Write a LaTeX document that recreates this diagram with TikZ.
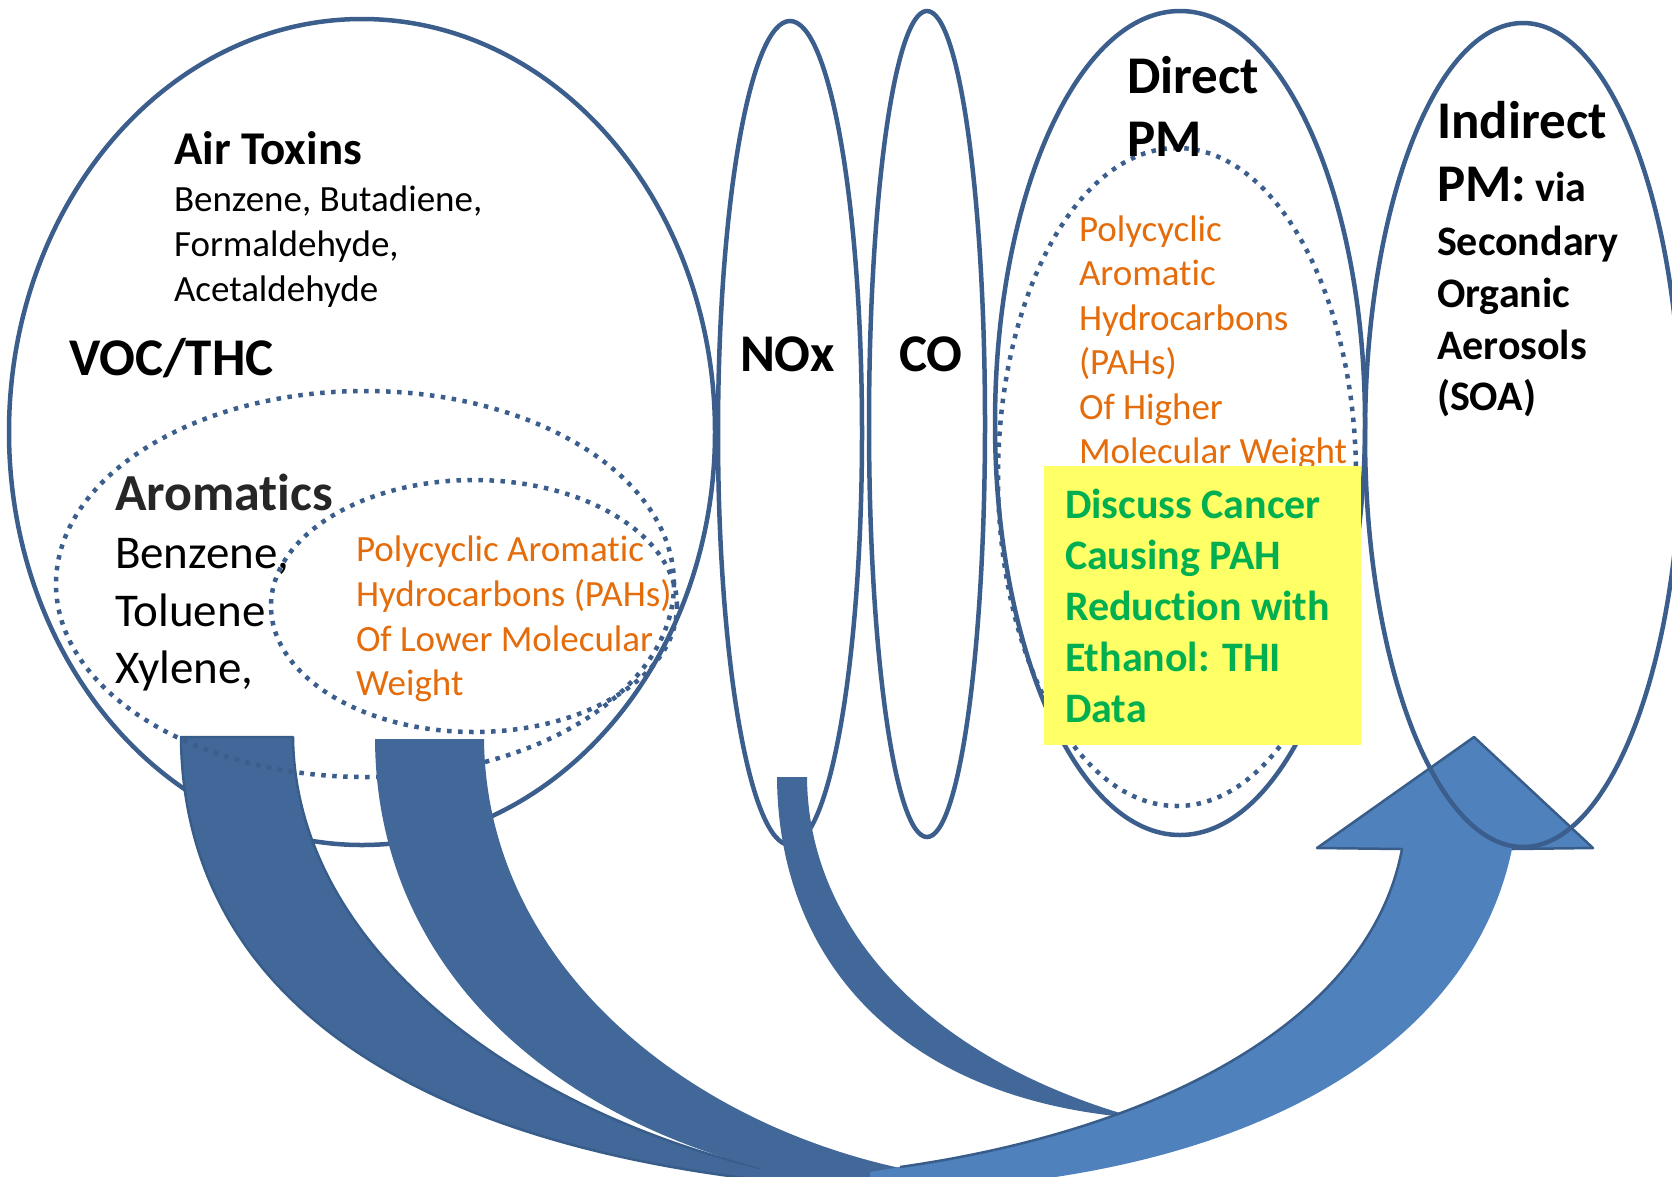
\documentclass[tikz,border=0pt]{standalone}
\usepackage{fontspec}
\setmainfont{Carlito}[Ligatures=NoCommon]
\definecolor{lineblue}{HTML}{3B5E8C}
\definecolor{bandblue}{HTML}{416899}
\definecolor{arrowblue}{HTML}{4F81BD}
\definecolor{edgeblue}{HTML}{385D8A}
\definecolor{pahorange}{HTML}{E46C0A}
\definecolor{notegreen}{HTML}{00B050}
\definecolor{noteyellow}{HTML}{FFFF66}
\newcommand\setpt[1]{\fontsize{#1pt}{#1pt}\selectfont}
\begin{document}
\begin{tikzpicture}[x=1pt,y=-1pt,
  outline/.style={draw=lineblue, line width=4.5pt},
  dotline/.style={draw=lineblue, line width=4.5pt, dash pattern=on 4.5pt off 6.5pt},
  band/.style={fill=bandblue},
  bandedge/.style={draw=edgeblue, line width=2.5pt, line join=round},
  lbl/.style={anchor=base west, inner sep=0pt, outer sep=0pt},
  head/.style={lbl, font=\setpt{53}\bfseries},
  sub/.style={lbl, font=\setpt{37}},
  pah/.style={lbl, font=\setpt{37}, text=pahorange},
  soa/.style={lbl, font=\setpt{42}\bfseries},
  note/.style={lbl, font=\setpt{42}\bfseries, text=notegreen},
  notebox/.style={fill=noteyellow, inner sep=0pt, outer sep=0pt, anchor=north west}
]
\useasboundingbox (0,0) rectangle (1672,1176);
\clip (0,0) rectangle (1672,1176);

% VOC/THC outline
\draw[outline] (362,432) ellipse [x radius=353pt, y radius=413pt];

% left flow band (aromatics)
\path[band] (181,737) -- (293,737)
  .. controls (295,950) and (520,1110) .. (760,1168)
  -- (900,1180) -- (850,1188)
  .. controls (420,1160) and (183,1000) .. (181,737) -- cycle;
\draw[bandedge] (760,1168) .. controls (520,1110) and (295,950) .. (293,737)
  -- (181,737) .. controls (183,1000) and (420,1160) .. (850,1188);

% aromatics and light PAH groups
\draw[dotline] (365,584) ellipse [x radius=309pt, y radius=193pt];
\draw[dotline] (474,606) ellipse [x radius=203pt, y radius=126pt];

% second flow band (light PAHs)
\path[band] (375,739) -- (484,739)
  .. controls (486,960) and (680,1120) .. (900,1168)
  -- (900,1190) -- (760,1190) -- (760,1168)
  .. controls (540,1110) and (376,960) .. (375,739) -- cycle;

% NOx and CO
\draw[outline] (790,433) ellipse [x radius=72pt, y radius=412pt];
\draw[outline] (927,424) ellipse [x radius=58pt, y radius=413pt];

% thin NOx band
\path[band] (777,777) -- (807,777)
  .. controls (808,930) and (930,1060) .. (1137,1118)
  .. controls (900,1100) and (778,960) .. (777,777) -- cycle;

% Direct PM
\draw[outline] (1180,423) ellipse [x radius=185pt, y radius=412pt];
\draw[dotline] (1177,477) ellipse [x radius=179pt, y radius=329pt];

% rising arrow into secondary aerosols
\path[fill=arrowblue] (870,1172) -- (900,1167)
  .. controls (1160,1130) and (1370,1020) .. (1402,849)
  -- (1317,848) -- (1474,737) -- (1593,848) -- (1512,849)
  .. controls (1470,1050) and (1250,1170) .. (950,1188)
  -- (870,1190) -- cycle;
\draw[bandedge] (900,1167)
  .. controls (1160,1130) and (1370,1020) .. (1402,849)
  -- (1317,848) -- (1474,737) -- (1593,848) -- (1512,849);

% Indirect PM
\draw[outline] (1523,435) ellipse [x radius=158pt, y radius=412pt];

% VOC/THC texts
\node[lbl, font=\setpt{47}\bfseries] (airtox) at (174,164) {Air Toxins};
\node[sub] (at1) at (174,211.7) {Benzene, Butadiene,};
\node[sub] (at2) at (174,256.7) {Formaldehyde,};
\node[sub] (at3) at (174,301.7) {Acetaldehyde};
\node[head] (voc) at (69,375) {VOC/THC};
\node[head, font=\setpt{52}\bfseries, text=black!85] (arom) at (115,510) {Aromatics};
\node[lbl, font=\setpt{47}] (ar1) at (115,568) {Benzene,};
\node[lbl, font=\setpt{47}] (ar2) at (115,626.5) {Toluene};
\node[lbl, font=\setpt{47}] (ar3) at (115,683.5) {Xylene,};
\node[pah] (pl1) at (356,561.7) {Polycyclic Aromatic};
\node[pah] (pl2) at (356,606.5) {Hydrocarbons (PAHs)};
\node[pah] (pl3) at (356,651) {Of Lower Molecular};
\node[pah] (pl4) at (356,695) {Weight};

% NOx, CO
\node[head] (nox) at (740,371) {NOx};
\node[head] (co) at (899,371) {CO};

% Direct PM texts
\node[head] (dpm1) at (1127,93) {Direct};
\node[head] (dpm2) at (1127,156) {PM};
\node[pah] (ph1) at (1079,241) {Polycyclic};
\node[pah] (ph2) at (1079,285.5) {Aromatic};
\node[pah] (ph3) at (1079,330) {Hydrocarbons};
\node[pah] (ph4) at (1079,374.5) {(PAHs)};
\node[pah] (ph5) at (1079,419) {Of Higher};
\node[pah] (ph6) at (1079,463.5) {Molecular Weight};

% Indirect PM texts
\node[head] (ipm1) at (1437,138) {Indirect};
\node[head] (ipm2) at (1437,201.5) {PM:\setpt{42} via};
\node[soa] (ipm3) at (1437,255) {Secondary};
\node[soa] (ipm4) at (1437,307) {Organic};
\node[soa] (ipm5) at (1437,359) {Aerosols};
\node[soa] (ipm6) at (1437,410) {(SOA)};

% highlighted note
\node[notebox, minimum width=317pt, minimum height=279pt] (notebg) at (1044,466) {};
\node[note] (n1) at (1065,518.5) {Discuss Cancer};
\node[note] (n2) at (1065,569.5) {Causing PAH};
\node[note] (n3) at (1065,620.5) {Reduction with};
\node[note] (n4) at (1065,671) {Ethanol: THI};
\node[note] (n5) at (1065,722) {Data};
\end{tikzpicture}
\end{document}
